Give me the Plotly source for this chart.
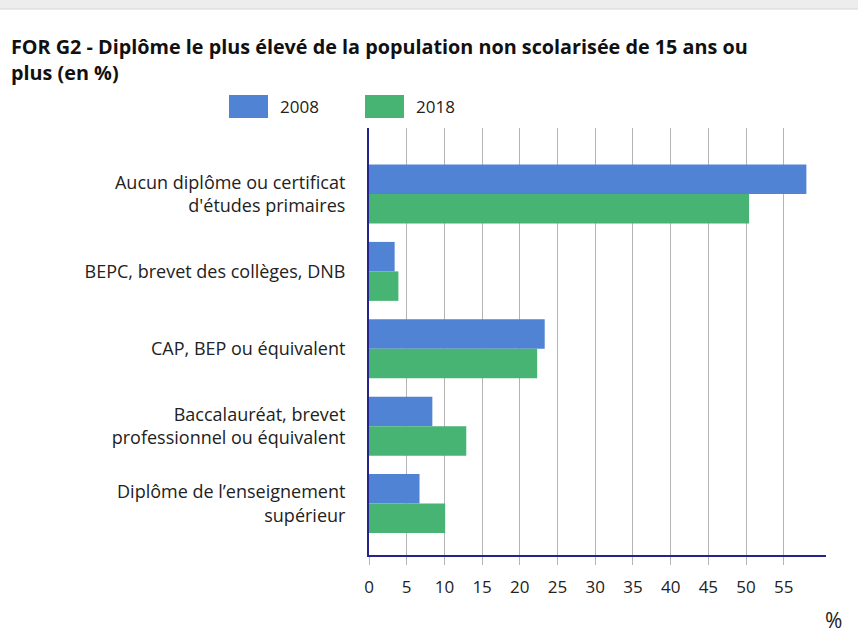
import plotly.graph_objects as go

# Data
categories = [
    "Aucun diplôme ou certificat<br>d'études primaires",
    "BEPC, brevet des collèges, DNB",
    "CAP, BEP ou équivalent",
    "Baccalauréat, brevet<br>professionnel ou équivalent",
    "Diplôme de l\u2019enseignement<br>supérieur",
]
series_names = ["2008", "2018"]
values_2008 = [58.0, 3.4, 23.3, 8.4, 6.7]
values_2018 = [50.4, 3.9, 22.3, 12.9, 10.1]
x_ticks = [0, 5, 10, 15, 20, 25, 30, 35, 40, 45, 50, 55]

BLUE = "#5083D3"
GREEN = "#47B474"
AXIS = "#24248A"
GRID = "#B4B4B4"
TEXT = "#222222"
FONT = "Open Sans"

W, H = 858, 644
ML, MR, MT, MB = 369, 32, 128, 89
PW, PH = W - ML - MR, H - MT - MB


def px_x(x):
    return (x - ML) / PW


def px_y(y):
    return 1 - (y - MT) / PH


ypos = list(range(len(categories)))

fig = go.Figure()
fig.add_trace(go.Bar(y=ypos, x=values_2008, name=series_names[0], orientation="h",
                     marker=dict(color=BLUE, line=dict(width=0)), showlegend=False))
fig.add_trace(go.Bar(y=ypos, x=values_2018, name=series_names[1], orientation="h",
                     marker=dict(color=GREEN, line=dict(width=0)), showlegend=False))

shapes = [
    # grey browser strip at the very top
    dict(type="rect", xref="paper", yref="paper", x0=px_x(0), x1=px_x(W),
         y0=px_y(0), y1=px_y(9), fillcolor="#EDEDED", line=dict(width=0), layer="below"),
    dict(type="line", xref="paper", yref="paper", x0=px_x(0), x1=px_x(W),
         y0=px_y(9), y1=px_y(9), line=dict(color="#D6D6D6", width=1)),
]
annotations = []

# legend swatches and labels
legend_items = [(229, series_names[0], BLUE), (365, series_names[1], GREEN)]
for x0, label, color in legend_items:
    shapes.append(dict(type="rect", xref="paper", yref="paper",
                       x0=px_x(x0), x1=px_x(x0 + 39), y0=px_y(95), y1=px_y(118),
                       fillcolor=color, line=dict(width=0)))
    annotations.append(dict(xref="paper", yref="paper", x=px_x(x0 + 49), y=px_y(107),
                            text=label, showarrow=False, xanchor="left", yanchor="middle",
                            font=dict(family=FONT, size=17, color=TEXT)))

# title
annotations.append(dict(xref="paper", yref="paper", x=px_x(9), y=px_y(31),
                        text="FOR G2 - Diplôme le plus élevé de la population non scolarisée de 15 ans ou<br>plus (en %)",
                        showarrow=False, xanchor="left", yanchor="top", align="left",
                        font=dict(family=FONT, size=19.8, color="#111111", weight="bold")))

# unit label
annotations.append(dict(xref="paper", yref="paper", x=px_x(833), y=px_y(620),
                        text="%", showarrow=False, xanchor="center", yanchor="middle",
                        font=dict(family=FONT, size=21, color=TEXT)))

fig.update_layout(
    width=W, height=H,
    margin=dict(l=ML, r=MR, t=MT, b=MB, pad=0),
    paper_bgcolor="white", plot_bgcolor="white",
    barmode="group", bargap=0.238, bargroupgap=0,
    shapes=shapes, annotations=annotations,
    font=dict(family=FONT, color=TEXT),
)

fig.update_xaxes(
    range=[0, 60.6], tickmode="array", tickvals=x_ticks, ticktext=[str(v) for v in x_ticks],
    showgrid=True, gridcolor=GRID, gridwidth=1, zeroline=False,
    showline=True, linecolor=AXIS, linewidth=2,
    ticks="outside", ticklen=8, tickcolor=GRID, tickwidth=1,
    ticklabelstandoff=8, tickfont=dict(family=FONT, size=17, color=TEXT),
)
fig.update_yaxes(
    range=[4.665, -0.853], tickmode="array", tickvals=ypos, ticktext=categories,
    showgrid=False, zeroline=False,
    showline=True, linecolor=AXIS, linewidth=2, ticks="",
    ticklabelstandoff=18, tickfont=dict(family=FONT, size=18, color=TEXT),
)

fig.write_html("out.html")
